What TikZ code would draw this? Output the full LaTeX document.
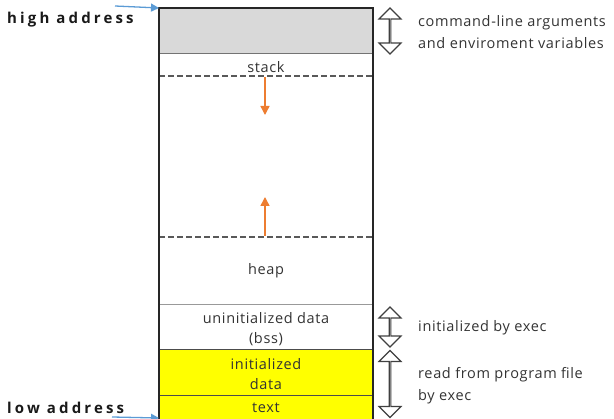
\documentclass[tikz,border=0pt]{standalone}
\usepackage{fontspec}
\setmainfont{Open Sans}[LetterSpace=4.5]
\usepackage{tikz}
\usetikzlibrary{shapes.arrows,arrows.meta}

\definecolor{cellgray}{HTML}{D9D9D9}
\definecolor{cellyellow}{HTML}{FFFF00}
\definecolor{groworange}{HTML}{ED7D31}
\definecolor{addrblue}{HTML}{5B9BD5}

\begin{document}
\begin{tikzpicture}[x=1pt,y=-1pt]
			\tikzstyle{every node}=[font=\fontsize{14.5}{16}\selectfont, text=black!80, inner sep=0pt]
			\tikzstyle{addrlabel}=[font=\fontsize{15}{17}\selectfont\bfseries\addfontfeatures{LetterSpace=21}, text=black!90, anchor=west]
			\tikzstyle{spanarrow}=[draw=black!75, line width=1.1pt, fill=white, double arrow, shape border rotate=90, minimum width=22pt, double arrow head extend=7pt, double arrow tip angle=90]
			\tikzstyle{growarrow}=[groworange, line width=1.4pt, -{Triangle[length=9pt,width=9pt]}]
			\tikzstyle{addrarrow}=[addrblue, line width=1.3pt, -{Triangle[length=8pt,width=8pt]}]
			\tikzstyle{gap}=[black!65, dash pattern=on 6pt off 3pt, line width=1.3pt]
			\useasboundingbox (0,0) rectangle (614,419);
			
			%Segmente von oben nach unten
			\fill[cellgray] (159,8) rectangle (373,54);
			\fill[cellyellow] (159,350) rectangle (373,419);
			\draw[black!55, line width=1pt] (159,54) -- (373,54);
			\draw[gap] (159,76) -- (373,76);
			\draw[gap] (159,237) -- (373,237);
			\draw[black!40, line width=1pt] (159,305) -- (373,305);
			\draw[black!70, line width=1pt] (159,350) -- (373,350);
			\draw[black!70, line width=1pt] (159,396) -- (373,396);
			\draw[black!85, line width=1.3pt] (159,419) -- (159,8) coordinate(top) -- (373,8) -- (373,419);
			\coordinate (bottom) at (159,418);
			
			%Beschriftung der Segmente
			\node (stack) at (266,67) {stack};
			\node (heap) at (266,271) {heap};
			\node[align=center] (bss) at (266,329) {uninitialized data\\[4pt](bss)};
			\node[align=center] (idata) at (266,374) {initialized\\[4pt]data};
			\node (text) at (266,408) {text};
			
			%Wachstumsrichtung
			\coordinate (s0) at (265,77);
			\coordinate (s1) at (265,115);
			\coordinate (h0) at (265,236);
			\coordinate (h1) at (265,197);
			\draw[growarrow] (s0) -- (s1);
			\draw[growarrow] (h0) -- (h1);
			
			%Adressen
			\node[addrlabel] (high) at (7,20) {high address};
			\node[addrlabel] (low) at (7,408) {low address};
			\coordinate (hstart) at (115,6);
			\coordinate (lstart) at (112,417);
			\draw[addrarrow] (hstart) -- (top);
			\draw[addrarrow] (lstart) -- (bottom);
			
			%Pfeile rechts
			\node[spanarrow, minimum height=46pt] (argsarrow) at (390,31) {};
			\node[spanarrow, minimum height=40pt] (execarrow) at (390,327) {};
			\node[spanarrow, minimum height=67pt] (filearrow) at (390,384) {};
			\node[anchor=west, align=left] (args) at (418,32) {command-line arguments\\[6pt]and enviroment variables};
			\node[anchor=west] (exec) at (418,328) {initialized by exec};
			\node[anchor=west, align=left] (file) at (418,386) {read from program file\\[6pt]by exec};
		\end{tikzpicture}
\end{document}
